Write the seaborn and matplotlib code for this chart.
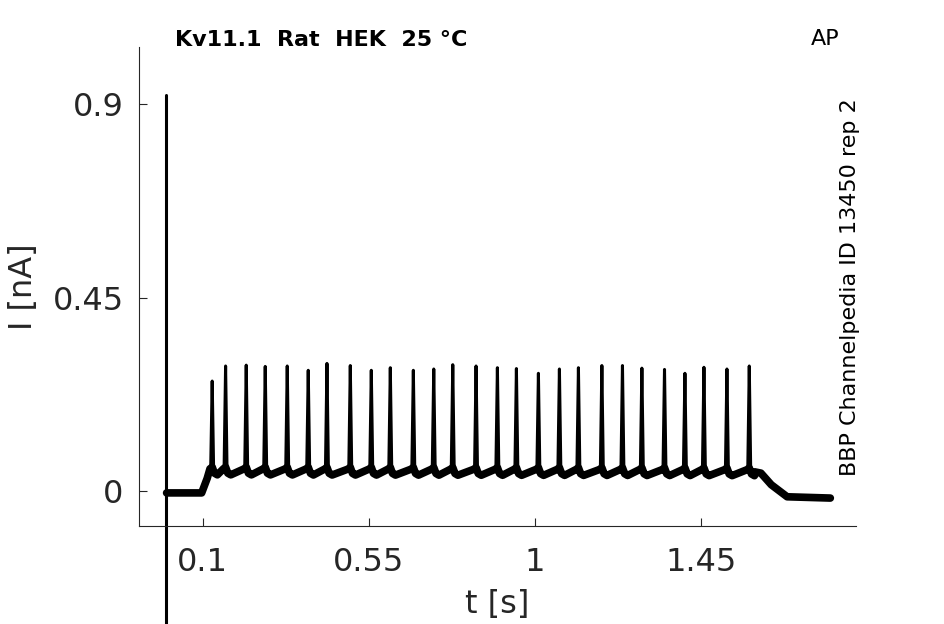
import numpy as np
import pandas as pd
import matplotlib
matplotlib.use("Agg")
import matplotlib.pyplot as plt
import seaborn as sns

# ---- data ----
# spike times [s] and peak currents [nA]
spike_t = [0.1255, 0.1618, 0.2177, 0.2692, 0.3288, 0.3857, 0.4364, 0.4996, 0.5565,
           0.6080, 0.6704, 0.7257, 0.7772, 0.8403, 0.8981, 0.9496, 1.0092, 1.0661,
           1.1176, 1.1811, 1.2369, 1.2895, 1.3508, 1.4061, 1.4576, 1.5199, 1.5804]
spike_peak = [0.256, 0.291, 0.293, 0.290, 0.291, 0.281, 0.297, 0.292, 0.281,
              0.287, 0.281, 0.284, 0.294, 0.291, 0.287, 0.285, 0.274, 0.284,
              0.287, 0.292, 0.292, 0.286, 0.283, 0.274, 0.288, 0.284, 0.291]

# holding level / step envelope of the trace
base_t = [0.002, 0.097, 0.112, 0.124, 1.595, 1.612, 1.640, 1.683, 1.800]
base_v = [-0.004, -0.004, 0.030, 0.047, 0.045, 0.042, 0.015, -0.013, -0.016]

# capacitive artefact at t = 0 (runs off the axes)
artefact_t = [0.0, 0.0]
artefact_v = [0.92, -0.5]

x_ticks = [0.1, 0.55, 1, 1.45]
x_ticklabels = ["0.1", "0.55", "1", "1.45"]
y_ticks = [0, 0.45, 0.9]
y_ticklabels = ["0", "0.45", "0.9"]

# ---- build the trace ----
base = lambda t: np.interp(t, base_t, base_v)

env_t, env_v = list(base_t[:3]), list(base_v[:3])
tr_t, tr_v = [], []
for ts, pk in zip(spike_t, spike_peak):
    env_t += [ts - 0.006, ts, ts + 0.006, ts + 0.014]
    env_v += [base(ts) + 0.005, base(ts) + 0.009, base(ts) - 0.005, base(ts) - 0.009]
    tr_t += [ts - 0.004, ts, ts + 0.004]
    tr_v += [base(ts) + 0.008, pk, base(ts) - 0.004]
env_t += base_t[4:]
env_v += base_v[4:]
order = np.argsort(env_t)
env = pd.DataFrame({"t": np.array(env_t)[order], "I": np.array(env_v)[order]})

spikes = pd.DataFrame({"t": tr_t, "I": tr_v})
spikes["g"] = np.repeat(np.arange(len(spike_t)), 3)

# ---- plot ----
sns.set_theme(style="ticks")
plt.rcParams["font.family"] = ["DejaVu Sans"]

fig = plt.figure(figsize=(9.45, 6.24), dpi=100)
ax = fig.add_axes([0.147, 0.157, 0.759, 0.768])

sns.lineplot(data=env, x="t", y="I", ax=ax, color="black", linewidth=5.5,
             sort=False, estimator=None)
sns.lineplot(data=spikes, x="t", y="I", units="g", ax=ax, color="black",
             linewidth=2.2, sort=False, estimator=None)
sns.lineplot(x=artefact_t, y=artefact_v, ax=ax, color="black", linewidth=2.2,
             sort=False, estimator=None, clip_on=False)

ax.set_xlim(-0.073, 1.870)
ax.set_ylim(-0.081, 1.033)
ax.set_xticks(x_ticks)
ax.set_xticklabels(x_ticklabels)
ax.set_yticks(y_ticks)
ax.set_yticklabels(y_ticklabels)

ax.tick_params(direction="in", length=5.5, width=0.8, color="#262626",
               labelsize=23, labelcolor="#262626")
ax.tick_params(axis="x", pad=15)
ax.tick_params(axis="y", pad=11)
for side in ["left", "bottom"]:
    ax.spines[side].set_linewidth(0.8)
    ax.spines[side].set_color("#262626")
sns.despine(ax=ax)

ax.set_xlabel("t [s]", fontsize=23, color="#262626", labelpad=8)
ax.set_ylabel("I [nA]", fontsize=23, color="#262626", labelpad=10)

fig.text(0.185, 0.936, "Kv11.1  Rat  HEK  25 °C", fontsize=16, fontweight="bold",
         ha="left", va="center", color="black")
fig.text(0.858, 0.938, "AP", fontsize=16, ha="left", va="center", color="black")
fig.text(0.899, 0.54, "BBP Channelpedia ID 13450 rep 2", fontsize=16, rotation=90,
         ha="center", va="center", color="black")

fig.savefig("out.png", dpi=100)
